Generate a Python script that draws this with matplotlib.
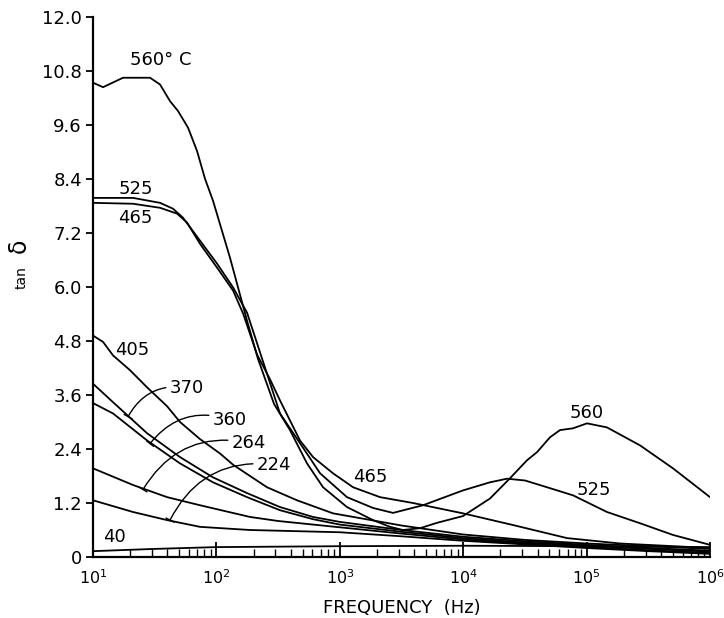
import numpy as np
import matplotlib.pyplot as plt
from matplotlib.ticker import FixedLocator, FixedFormatter, LogLocator

plt.rcParams['font.family'] = ['DejaVu Sans']

# log10 of frequency (Hz) and tan delta for each temperature (deg C)
lf_560 = [1.0, 1.081, 1.243, 1.462, 1.543, 1.624, 1.689, 1.770, 1.843, 1.908,
          1.972, 2.110, 2.248, 2.337, 2.467, 2.596, 2.734, 2.864, 3.058, 3.269,
          3.407, 3.512, 3.650, 3.788, 3.998, 4.217, 4.379, 4.517, 4.598, 4.703,
          4.784, 4.890, 5.003, 5.165, 5.433, 5.700, 6.0]
td_560 = [10.54, 10.44, 10.65, 10.65, 10.50, 10.13, 9.91, 9.54, 9.02, 8.40,
          7.92, 6.65, 5.25, 4.40, 3.40, 2.82, 2.08, 1.55, 1.11, 0.82,
          0.67, 0.60, 0.64, 0.76, 0.91, 1.30, 1.75, 2.15, 2.33, 2.66,
          2.82, 2.86, 2.97, 2.88, 2.48, 1.97, 1.33]

lf_525 = [1.0, 1.324, 1.543, 1.648, 1.729, 1.867, 2.005, 2.135, 2.248, 2.353,
          2.515, 2.677, 2.840, 3.058, 3.269, 3.431, 3.674, 3.998, 4.217, 4.355,
          4.501, 4.679, 4.890, 5.165, 5.433, 5.700, 6.0]
td_525 = [7.98, 7.98, 7.87, 7.74, 7.54, 7.03, 6.52, 5.99, 5.43, 4.55,
          3.19, 2.53, 1.86, 1.33, 1.09, 0.98, 1.15, 1.48, 1.66, 1.74,
          1.70, 1.55, 1.37, 1.00, 0.75, 0.49, 0.27]

lf_465 = [1.0, 1.324, 1.543, 1.681, 1.762, 1.867, 2.005, 2.135, 2.216, 2.329,
          2.434, 2.515, 2.677, 2.783, 2.945, 3.107, 3.326, 3.593, 3.998, 4.404,
          4.841, 5.271, 6.0]
td_465 = [7.87, 7.85, 7.76, 7.63, 7.43, 6.96, 6.43, 5.92, 5.41, 4.50,
          3.95, 3.48, 2.59, 2.22, 1.86, 1.55, 1.33, 1.20, 0.97, 0.71,
          0.42, 0.30, 0.20]

lf_405 = [1.0, 1.081, 1.162, 1.300, 1.438, 1.600, 1.705, 1.867, 2.029, 2.135,
          2.272, 2.410, 2.653, 2.945, 3.5, 4.0, 4.5, 5.0, 5.5, 6.0]
td_405 = [4.92, 4.78, 4.48, 4.15, 3.77, 3.35, 3.00, 2.62, 2.30, 2.05,
          1.80, 1.55, 1.26, 0.97, 0.70, 0.50, 0.38, 0.30, 0.24, 0.18]

lf_370 = [1.0, 1.162, 1.438, 1.705, 1.972, 2.248, 2.515, 2.783, 3.0, 3.5,
          4.0, 4.5, 5.0, 5.5, 6.0]
td_370 = [3.85, 3.44, 2.75, 2.22, 1.77, 1.42, 1.11, 0.89, 0.78, 0.60,
          0.45, 0.35, 0.27, 0.20, 0.14]

lf_360 = [1.0, 1.162, 1.438, 1.705, 1.972, 2.248, 2.515, 2.783, 3.0, 3.5,
          4.0, 4.5, 5.0, 5.5, 6.0]
td_360 = [3.42, 3.19, 2.59, 2.08, 1.66, 1.33, 1.04, 0.84, 0.72, 0.56,
          0.42, 0.32, 0.25, 0.18, 0.12]

lf_264 = [1.0, 1.324, 1.600, 1.867, 2.272, 2.5, 3.0, 3.5, 4.0, 4.5,
          5.0, 5.5, 6.0]
td_264 = [1.97, 1.60, 1.33, 1.15, 0.89, 0.80, 0.66, 0.52, 0.39, 0.30,
          0.22, 0.15, 0.09]

lf_224 = [1.0, 1.324, 1.600, 1.867, 2.272, 3.0, 3.5, 4.0, 4.5, 5.0,
          5.5, 6.0]
td_224 = [1.26, 1.00, 0.82, 0.67, 0.60, 0.55, 0.46, 0.36, 0.28, 0.20,
          0.13, 0.07]

lf_40 = [1.0, 1.5, 2.0, 3.0, 4.0, 5.0, 6.0]
td_40 = [0.13, 0.18, 0.22, 0.24, 0.25, 0.24, 0.22]

curves = [(lf_560, td_560), (lf_525, td_525), (lf_465, td_465),
          (lf_405, td_405), (lf_370, td_370), (lf_360, td_360),
          (lf_264, td_264), (lf_224, td_224), (lf_40, td_40)]

yticks = [0, 1.2, 2.4, 3.6, 4.8, 6.0, 7.2, 8.4, 9.6, 10.8, 12.0]
ytick_labels = ['0', '1.2', '2.4', '3.6', '4.8', '6.0', '7.2', '8.4', '9.6',
                '10.8', '12.0']

fig = plt.figure(figsize=(7.24, 6.18), dpi=100)
ax = fig.add_axes([0.1285, 0.0987, 0.8522, 0.8738])

for lf, td in curves:
    ax.plot(np.power(10.0, lf), td, color='black', lw=1.3)

ax.set_xscale('log')
ax.set_xlim(10, 1e6)
ax.set_ylim(0, 12.0)
ax.spines['top'].set_visible(False)
ax.spines['right'].set_visible(False)
ax.spines['left'].set_linewidth(1.6)
ax.spines['bottom'].set_linewidth(1.6)

ax.xaxis.set_major_locator(LogLocator(base=10, numticks=10))
ax.xaxis.set_minor_locator(LogLocator(base=10, subs=np.arange(2, 10), numticks=20))
ax.tick_params(axis='x', which='major', direction='in', length=11, width=1.3,
               labelsize=11.5, pad=8)
ax.tick_params(axis='x', which='minor', direction='in', length=6, width=1.0)

ax.yaxis.set_major_locator(FixedLocator(yticks))
ax.yaxis.set_major_formatter(FixedFormatter(ytick_labels))
ax.tick_params(axis='y', direction='out', length=5, width=1.3, labelsize=13, pad=3)

ax.set_xlabel('FREQUENCY  (Hz)', fontsize=13, labelpad=9)
fig.text(0.030, 1 - 278 / 618, 'tan', rotation=90, fontsize=10,
         ha='center', va='center')
fig.text(0.026, 1 - 246 / 618, 'δ', rotation=90, fontsize=17,
         ha='center', va='center')

# curve labels
lab = dict(fontsize=13, ha='left', va='center')
ax.text(10 ** 1.30, 11.04, '560° C', **lab)
ax.text(10 ** 1.203, 8.18, '525', **lab)
ax.text(10 ** 1.203, 7.53, '465', **lab)
ax.text(10 ** 1.178, 4.59, '405', **lab)
ax.text(10 ** 1.081, 0.45, '40', **lab)
ax.text(10 ** 3.107, 1.77, '465', **lab)
ax.text(10 ** 4.865, 3.20, '560', **lab)
ax.text(10 ** 4.922, 1.50, '525', **lab)

# labels with leader lines down to their curves
leaders = [('370', 1.624, 3.76, 1.284, 3.12),
           ('360', 1.972, 3.05, 1.462, 2.52),
           ('264', 2.126, 2.54, 1.405, 1.50),
           ('224', 2.329, 2.05, 1.624, 0.82)]
for text, tx, ty, px, py in leaders:
    ax.annotate(text, xy=(10 ** px, py), xytext=(10 ** tx, ty),
                fontsize=13, ha='left', va='center',
                arrowprops=dict(arrowstyle='-[, widthB=0.25, lengthB=0.0',
                                connectionstyle='arc3,rad=0.35',
                                color='black', lw=1.0, shrinkA=1, shrinkB=0))

fig.savefig('out.png', dpi=100)
